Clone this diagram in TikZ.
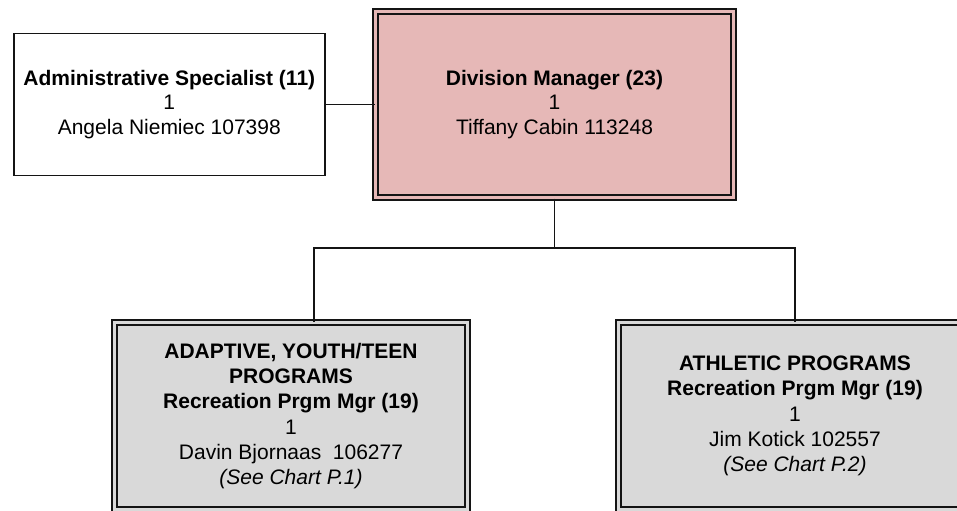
\documentclass[tikz,border=0pt]{standalone}
\usepackage{fontspec}
\setmainfont{Liberation Sans}
\usetikzlibrary{positioning}
\definecolor{mgrpink}{HTML}{E6B8B7}
\definecolor{proggray}{HTML}{D9D9D9}
\definecolor{inkline}{RGB}{20, 20, 20}

\begin{document}
\begin{tikzpicture}[
            x=0.5pt, y=0.5pt,
            node distance=24.5pt,
            mgrbox/.style={draw=inkline, line width=1pt, double=mgrpink, double distance=1.4pt, fill=mgrpink, minimum width=179pt, minimum height=93pt, align=center, inner sep=0pt, font=\fontsize{10.5}{12.4}\selectfont},
            staffbox/.style={draw=inkline, line width=0.7pt, fill=white, minimum width=155.5pt, minimum height=71pt, align=center, inner sep=0pt, font=\fontsize{10.5}{12.4}\selectfont},
            progbox/.style={draw=inkline, line width=1pt, double=proggray, double distance=1.4pt, fill=proggray, minimum width=176.5pt, minimum height=93.5pt, align=center, inner sep=0pt, font=\fontsize{10.5}{12.6}\selectfont},
            link/.style={draw=inkline, line width=0.75pt}
        ]
            \useasboundingbox (0,0) rectangle (957,510);
            \clip (0,0) rectangle (957,510);

            \node[mgrbox] (divmgr) at (554.5,405.5) {\textbf{Division Manager (23)}\\1\\Tiffany Cabin 113248};
            \node[staffbox, left=of divmgr] (adminspec) {\textbf{Administrative Specialist (11)}\\1\\Angela Niemiec 107398};

            \node[progbox] (adaptive) at (291,94) {\textbf{ADAPTIVE, YOUTH/TEEN}\\\textbf{PROGRAMS}\\\textbf{Recreation Prgm Mgr (19)}\\1\\Davin Bjornaas~~106277\\\textit{(See Chart P.1)}};
            \node[progbox] (athletic) at (795,94) {\textbf{ATHLETIC PROGRAMS}\\\textbf{Recreation Prgm Mgr (19)}\\1\\Jim Kotick 102557\\\textit{(See Chart P.2)}};

            \coordinate (split) at (554.5,262);

            \draw[link] (adminspec.east) -- (adminspec.east -| divmgr.west);
            \draw[link] (divmgr.south) -- (split);
            \draw[link] (split) -| ([xshift=11.5pt]adaptive.north);
            \draw[link] (split) -| (athletic.north);
        \end{tikzpicture}
\end{document}
